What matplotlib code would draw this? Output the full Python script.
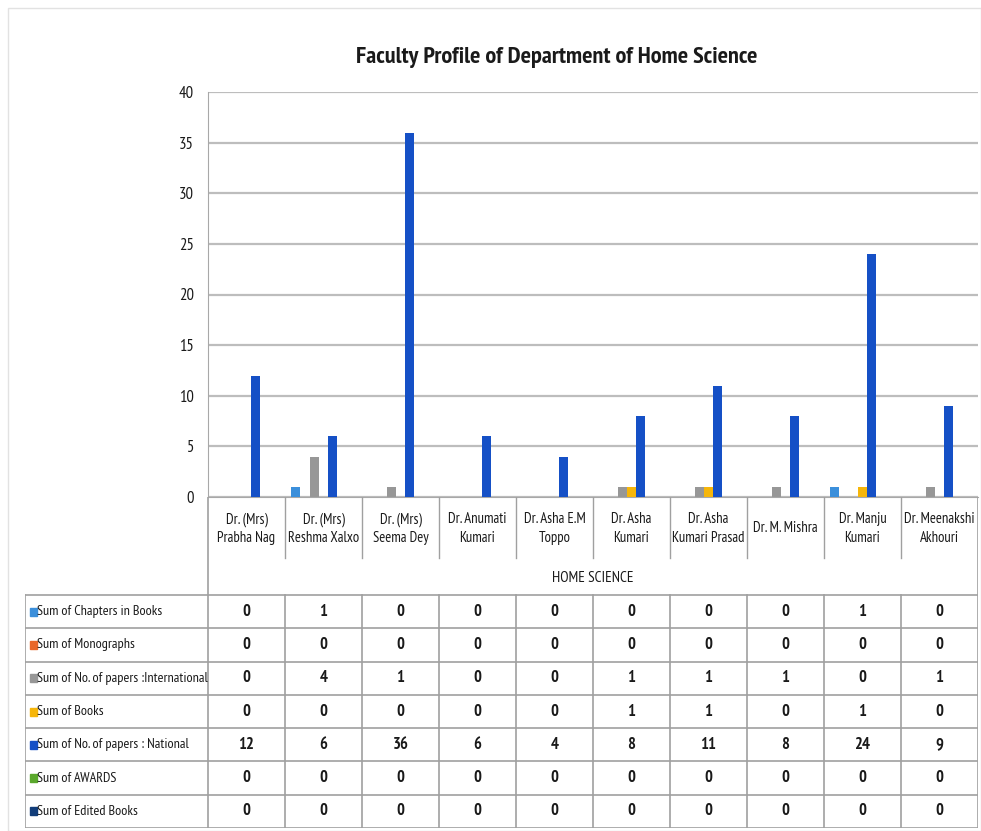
import numpy as np
import matplotlib.pyplot as plt
from matplotlib.patches import Rectangle

plt.rcParams['font.family'] = ['PT Sans Narrow', 'DejaVu Sans']

# data
names = ["Dr. (Mrs)\nPrabha Nag", "Dr. (Mrs)\nReshma Xalxo", "Dr. (Mrs)\nSeema Dey",
         "Dr. Anumati\nKumari", "Dr. Asha E.M\nToppo", "Dr. Asha\nKumari",
         "Dr. Asha\nKumari Prasad", "Dr. M. Mishra", "Dr. Manju\nKumari",
         "Dr. Meenakshi\nAkhouri"]
series = ["Sum of Chapters in Books", "Sum of Monographs",
          "Sum of No. of papers :International", "Sum of Books",
          "Sum of No. of papers : National", "Sum of AWARDS", "Sum of Edited Books"]
chapters = [0, 1, 0, 0, 0, 0, 0, 0, 1, 0]
monographs = [0, 0, 0, 0, 0, 0, 0, 0, 0, 0]
international = [0, 4, 1, 0, 0, 1, 1, 1, 0, 1]
books = [0, 0, 0, 0, 0, 1, 1, 0, 1, 0]
national = [12, 6, 36, 6, 4, 8, 11, 8, 24, 9]
awards = [0, 0, 0, 0, 0, 0, 0, 0, 0, 0]
edited = [0, 0, 0, 0, 0, 0, 0, 0, 0, 0]
values = [chapters, monographs, international, books, national, awards, edited]
colors = ["#3b8fdb", "#e8672a", "#979797", "#f6b60a", "#1550c6", "#5aa82c", "#123d7a"]

W, H = 981, 831
fig = plt.figure(figsize=(W / 100, H / 100), dpi=100)
fig.patches.append(Rectangle((8 / W, 0), 1 - 8 / W, 1 - 8 / H, transform=fig.transFigure,
                             fill=False, ec="#e2e2e2", lw=1))

x0, x1 = 208, 978
ytop, y0 = 92, 497
ax = fig.add_axes([x0 / W, 1 - y0 / H, (x1 - x0) / W, (y0 - ytop) / H])
n = len(names)
x = np.arange(n) + 0.5
bw = 0.121
for i, (vals, c) in enumerate(zip(values, colors)):
    ax.bar(x + (i - 3) * bw, vals, width=bw, color=c, zorder=3)
ax.set_xlim(0, n)
ax.set_ylim(0, 40)
ax.set_yticks(range(0, 41, 5))
ax.set_xticks([])
ax.grid(axis='y', color="#bdbdbd", lw=1.6, zorder=0)
for s in ["top", "right"]:
    ax.spines[s].set_visible(False)
ax.spines["left"].set_color("#a8a8a8")
ax.spines["bottom"].set_color("#a8a8a8")
ax.tick_params(axis='y', length=0, labelsize=12, pad=10, colors="#1a1a1a")
fig.text(557 / W, 1 - 58 / H, "Faculty Profile of Department of Home Science",
         ha="center", va="center", fontsize=17.5, fontweight="bold", color="#1a1a1a")

# table below the plot, x in category units, y in pixel rows
tl = 25
ux = (x1 - x0) / n
xl = -(x0 - tl) / ux
yb = 828
ax_t = fig.add_axes([tl / W, 1 - yb / H, (x1 - tl) / W, (yb - y0) / H])
ax_t.set_xlim(xl, n)
ax_t.set_ylim(yb, y0)
ax_t.axis("off")
lc = "#a0a0a0"
ycat, yhs = 558, 595
rh = (yb - yhs) / len(series)
for k in range(1, n):
    ax_t.plot([k, k], [y0, ycat], color=lc, lw=1)
for k in range(0, n + 1):
    ax_t.plot([k, k], [y0 if k in (0, n) else yhs, yb], color=lc, lw=1.2)
ax_t.plot([xl, xl], [yhs, yb], color=lc, lw=1.2)
for r in range(len(series) + 1):
    ax_t.plot([xl, n], [yhs + r * rh] * 2, color=lc, lw=1.2)
for k, nm in enumerate(names):
    ax_t.text(k + 0.5, (y0 + ycat) / 2 + 1, nm, ha="center", va="center",
              fontsize=10.5, color="#1a1a1a", linespacing=1.4)
ax_t.text(n / 2, (ycat + yhs) / 2 + 1, "HOME SCIENCE", ha="center", va="center",
          fontsize=11, color="#1a1a1a")
for r, (lab, vals, c) in enumerate(zip(series, values, colors)):
    yc = yhs + (r + 0.5) * rh
    ax_t.add_patch(Rectangle((xl + 0.07, yc - 4), 0.08, 8, color=c))
    ax_t.text(xl + 0.16, yc, lab, ha="left", va="center", fontsize=10.2, color="#1a1a1a")
    for k, v in enumerate(vals):
        ax_t.text(k + 0.5, yc, str(v), ha="center", va="center", fontsize=12,
                  fontweight="bold", color="#1a1a1a")

fig.savefig("out.png", dpi=100)
